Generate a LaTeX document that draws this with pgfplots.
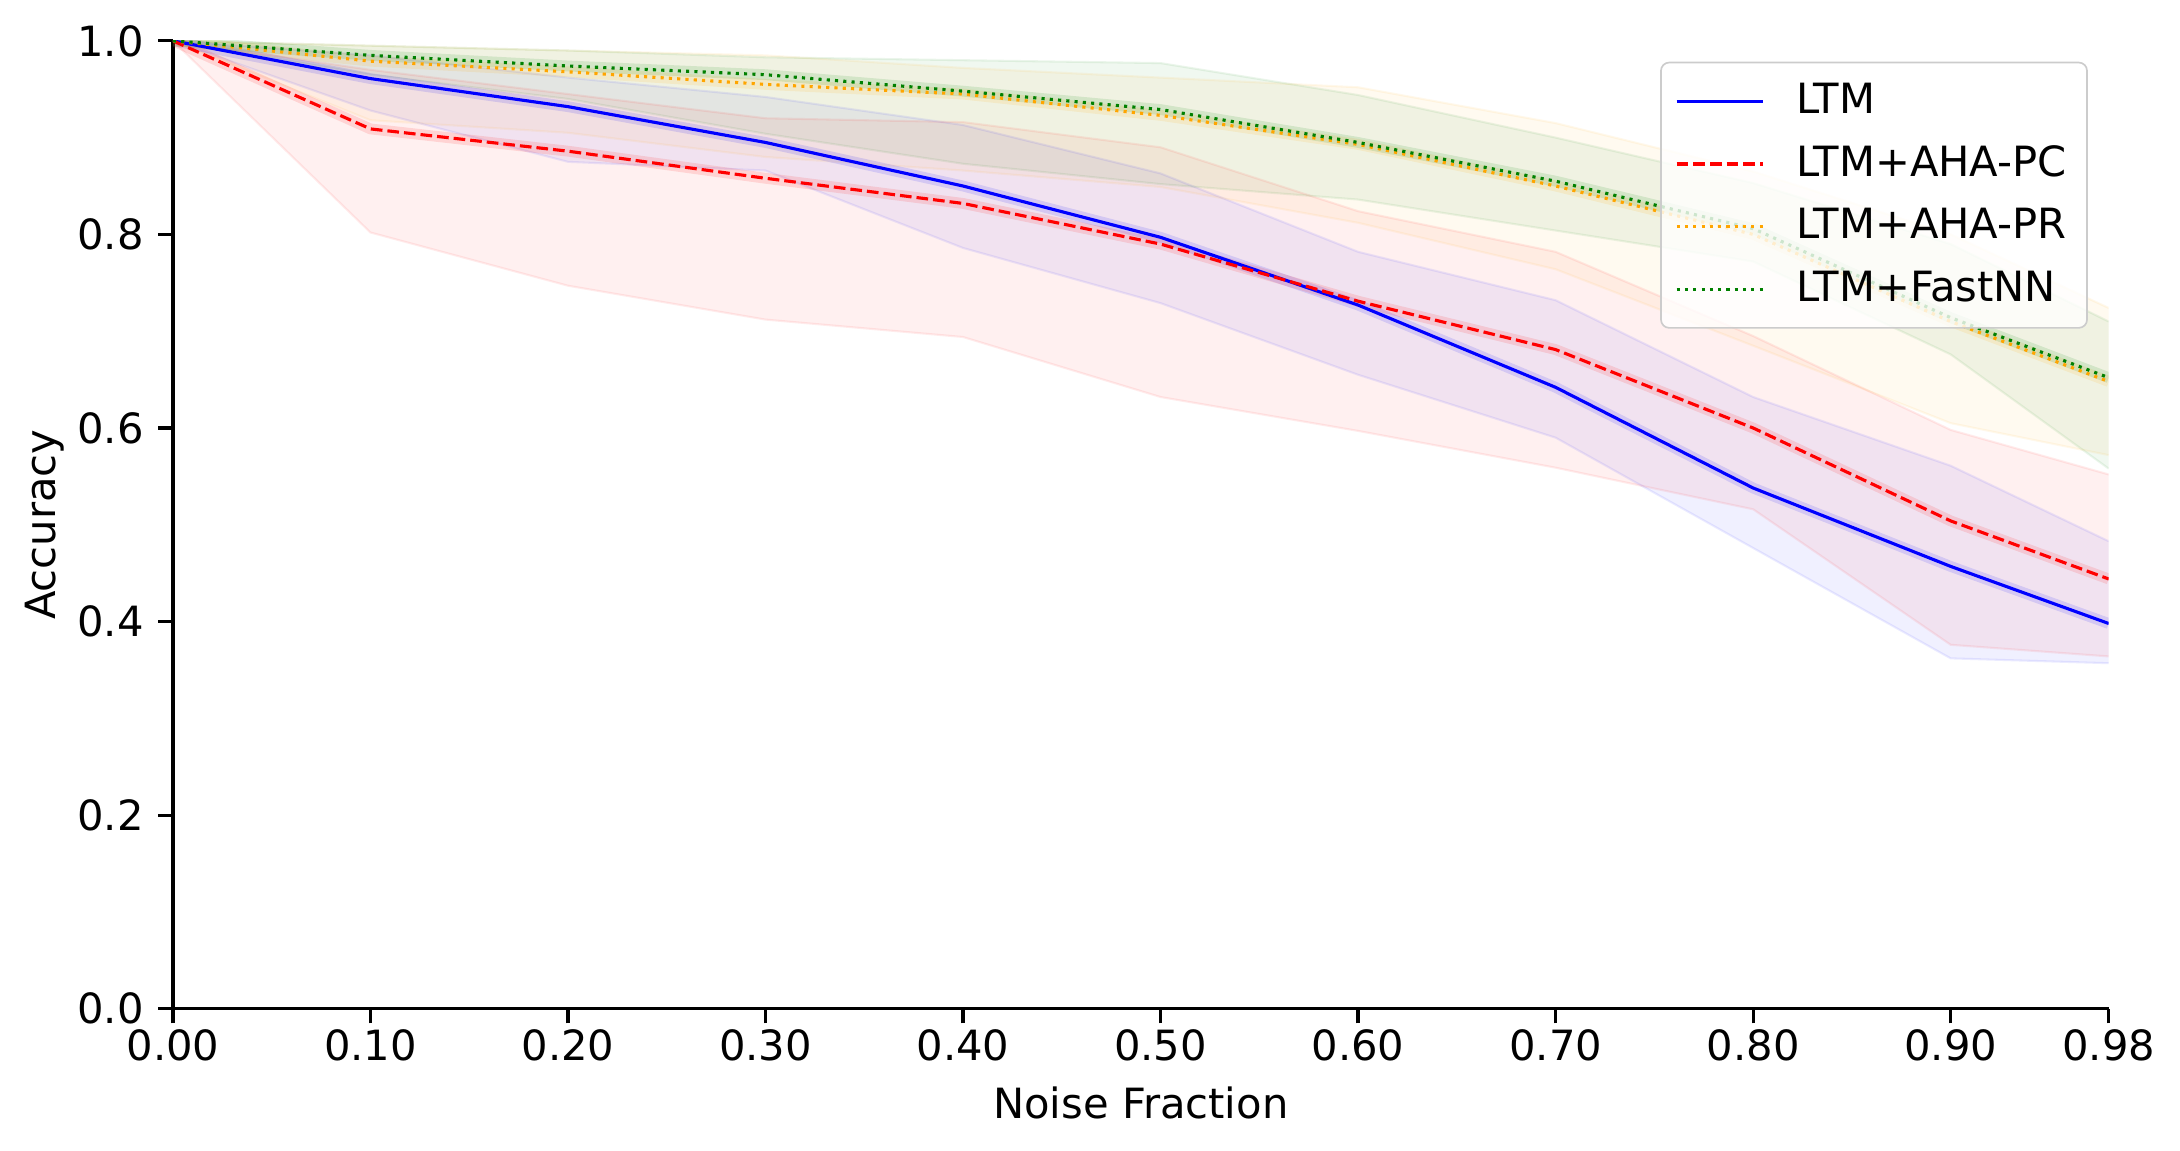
\documentclass[border=0pt]{standalone}
\usepackage{pgfplots}
\pgfplotsset{compat=1.18}
\usepackage{pgfplotstable}
\usepgfplotslibrary{fillbetween}
\usepackage{fontspec}
\setmainfont{DejaVu Sans}

\pgfplotstableread{
x m lo hi
0 1.0 1.0 1.0
0.1 0.961 0.928 0.985
0.2 0.932 0.875 0.962
0.3 0.895 0.866 0.942
0.4 0.850 0.786 0.913
0.5 0.797 0.729 0.863
0.6 0.727 0.655 0.782
0.7 0.642 0.590 0.732
0.8 0.538 0.476 0.632
0.9 0.457 0.362 0.561
0.98 0.398 0.357 0.483
}\ltm
\pgfplotstableread{
x m lo hi
0 1 1 1
0.1 0.909 0.802 0.970
0.2 0.886 0.747 0.945
0.3 0.858 0.712 0.920
0.4 0.832 0.694 0.916
0.5 0.790 0.632 0.890
0.6 0.731 0.597 0.824
0.7 0.681 0.559 0.782
0.8 0.600 0.516 0.695
0.9 0.504 0.376 0.598
0.98 0.444 0.364 0.552
}\ahapc
\pgfplotstableread{
x m lo hi
0 1 1 1
0.1 0.979 0.918 0.995
0.2 0.968 0.905 0.990
0.3 0.955 0.880 0.985
0.4 0.945 0.866 0.972
0.5 0.923 0.849 0.962
0.6 0.893 0.812 0.952
0.7 0.850 0.764 0.915
0.8 0.800 0.685 0.865
0.9 0.710 0.605 0.800
0.98 0.648 0.572 0.724
}\ahapr
\pgfplotstableread{
x m lo hi
0 1 1 1
0.1 0.985 0.965 0.995
0.2 0.974 0.940 0.990
0.3 0.965 0.904 0.983
0.4 0.948 0.873 0.980
0.5 0.929 0.852 0.977
0.6 0.895 0.836 0.944
0.7 0.855 0.804 0.900
0.8 0.806 0.772 0.853
0.9 0.714 0.676 0.790
0.98 0.652 0.558 0.710
}\fastnn

\definecolor{mplorange}{RGB}{255,165,0}
\definecolor{mplgreen}{RGB}{0,128,0}
\definecolor{mplblue}{RGB}{0,0,255}
\definecolor{mplred}{RGB}{255,0,0}

\begin{document}
\begin{tikzpicture}
\begin{axis}[
  at={(0,0)}, anchor=south west,
  scale only axis, width=464.6pt, height=232.3pt,
  xmin=0, xmax=0.98, ymin=0, ymax=1,
  axis x line*=bottom, axis y line*=left,
  axis line style={line width=0.8pt, -},
  tick align=outside, tick style={line width=0.8pt, black},
  major tick length=3.5pt,
  xtick={0,0.1,0.2,0.3,0.4,0.5,0.6,0.7,0.8,0.9,0.98},
  ytick={0,0.2,0.4,0.6,0.8,1.0},
  xticklabel style={/pgf/number format/.cd, fixed, fixed zerofill, precision=2, /tikz/.cd, yshift=2pt},
  yticklabel style={/pgf/number format/.cd, fixed, fixed zerofill, precision=1},
  /pgf/number format/assume math mode=true,
  tick label style={font=\fontsize{10}{12}\selectfont},
  label style={font=\fontsize{10}{12}\selectfont},
  xlabel={Noise Fraction}, ylabel={Accuracy},
  xlabel style={at={(axis description cs:0.5,0)}, anchor=center, yshift=-22.6pt},
  ylabel style={at={(axis description cs:0,0.5)}, anchor=center, yshift=30.7pt},
  legend style={at={(1,1)}, anchor=north east, xshift=-5pt, yshift=-5pt,
    draw=black!20, rounded corners=2pt, fill=white, fill opacity=0.8, text opacity=1,
    draw opacity=1, font=\fontsize{10}{12}\selectfont, inner xsep=3.4pt, inner ysep=3.4pt,
    row sep=3.2pt, nodes={inner sep=1.5pt}},
  legend cell align=left,
  legend image code/.code={\draw[#1] (0pt,0pt) -- (20.6pt,0pt);},
  /tikz/every odd column/.append style={column sep=6.2pt},
]
% bands
\addplot[draw=mplblue, draw opacity=0.08, line width=0.5pt, name path=bl, forget plot] table[x=x,y=lo]{\ltm};
\addplot[draw=mplblue, draw opacity=0.08, line width=0.5pt, name path=bh, forget plot] table[x=x,y=hi]{\ltm};
\addplot[fill=mplblue, fill opacity=0.06, draw=none, forget plot] fill between[of=bl and bh];
\addplot[draw=mplred, draw opacity=0.08, line width=0.5pt, name path=rl, forget plot] table[x=x,y=lo]{\ahapc};
\addplot[draw=mplred, draw opacity=0.08, line width=0.5pt, name path=rh, forget plot] table[x=x,y=hi]{\ahapc};
\addplot[fill=mplred, fill opacity=0.06, draw=none, forget plot] fill between[of=rl and rh];
\addplot[draw=mplorange, draw opacity=0.08, line width=0.5pt, name path=ol, forget plot] table[x=x,y=lo]{\ahapr};
\addplot[draw=mplorange, draw opacity=0.08, line width=0.5pt, name path=oh, forget plot] table[x=x,y=hi]{\ahapr};
\addplot[fill=mplorange, fill opacity=0.06, draw=none, forget plot] fill between[of=ol and oh];
\addplot[draw=mplgreen, draw opacity=0.08, line width=0.5pt, name path=gl, forget plot] table[x=x,y=lo]{\fastnn};
\addplot[draw=mplgreen, draw opacity=0.08, line width=0.5pt, name path=gh, forget plot] table[x=x,y=hi]{\fastnn};
\addplot[fill=mplgreen, fill opacity=0.06, draw=none, forget plot] fill between[of=gl and gh];
% halos
\addplot[mplblue, opacity=0.12, line width=2.6pt, forget plot] table[x=x,y=m]{\ltm};
\addplot[mplred, opacity=0.12, line width=2.6pt, forget plot] table[x=x,y=m]{\ahapc};
\addplot[mplorange, opacity=0.12, line width=2.6pt, forget plot] table[x=x,y=m]{\ahapr};
\addplot[mplgreen, opacity=0.12, line width=2.6pt, forget plot] table[x=x,y=m]{\fastnn};
% lines
\addplot[mplblue, line width=0.75pt] table[x=x,y=m]{\ltm};
\addlegendentry{LTM}
\addplot[mplred, line width=0.75pt, dash pattern=on 2.8pt off 1.2pt] table[x=x,y=m]{\ahapc};
\addlegendentry{LTM+AHA-PC}
\addplot[mplorange, line width=0.75pt, dash pattern=on 0.75pt off 1.24pt] table[x=x,y=m]{\ahapr};
\addlegendentry{LTM+AHA-PR}
\addplot[mplgreen, line width=0.75pt, dash pattern=on 0.75pt off 1.24pt] table[x=x,y=m]{\fastnn};
\addlegendentry{LTM+FastNN}
\end{axis}
\pgfresetboundingbox
\path[use as bounding box] (-41.5pt,-34pt) rectangle (481.7pt,242.1pt);
\end{tikzpicture}
\end{document}
